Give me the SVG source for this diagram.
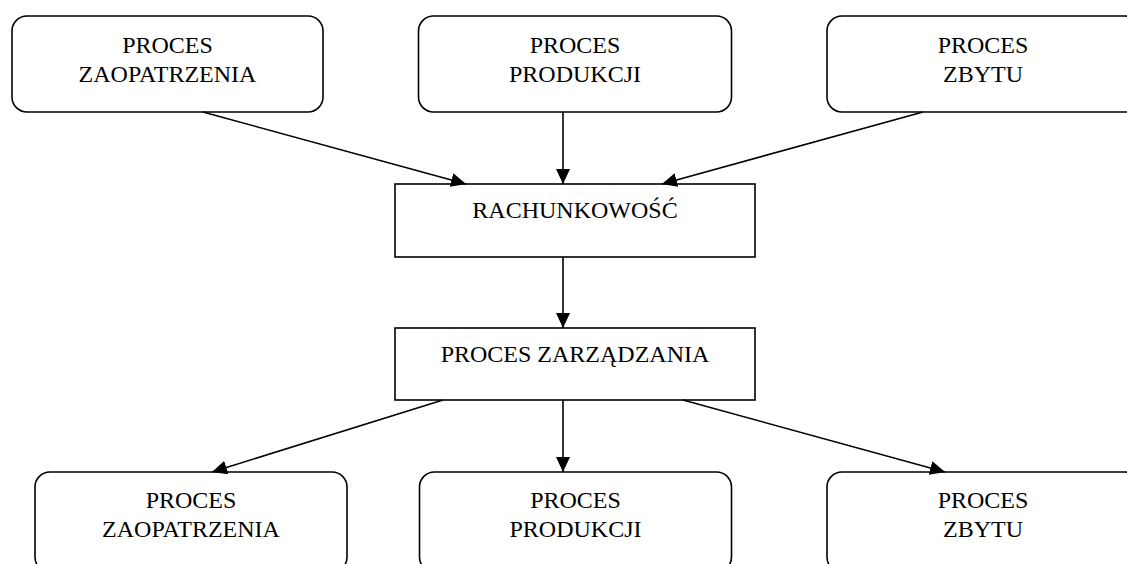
<svg xmlns="http://www.w3.org/2000/svg" width="1127" height="564" viewBox="0 0 1127 564">
<style>
.box{fill:#fff;stroke:#000;stroke-width:1.6}
.t{font-family:"Liberation Serif","Times New Roman",serif;font-size:24px;fill:#000;text-anchor:middle}
.c{stroke:#000;stroke-width:1.6;fill:none;marker-end:url(#ah)}
</style>
<defs>
<marker id="ah" markerUnits="userSpaceOnUse" markerWidth="16" markerHeight="14" refX="15" refY="7" orient="auto">
<path d="M0,0 L15,7 L0,14 z" fill="#000"/>
</marker>
</defs>
<rect width="1127" height="564" fill="#fff"/>
<g id="top-zaopatrzenie">
<rect class="box" x="12" y="16" width="311" height="96" rx="15"/>
<text class="t" x="167.5" y="53">PROCES</text>
<text class="t" x="167.5" y="82">ZAOPATRZENIA</text>
</g>
<g id="top-produkcja">
<rect class="box" x="418.5" y="16" width="313" height="96" rx="15"/>
<text class="t" x="575" y="53">PROCES</text>
<text class="t" x="575" y="82">PRODUKCJI</text>
</g>
<g id="top-zbyt">
<rect class="box" x="827" y="16" width="313" height="96" rx="15"/>
<text class="t" x="983" y="53">PROCES</text>
<text class="t" x="983" y="82">ZBYTU</text>
</g>
<g id="rachunkowosc">
<rect class="box" x="395" y="184" width="360" height="73"/>
<text class="t" x="575" y="218">RACHUNKOWOŚĆ</text>
</g>
<g id="zarzadzanie">
<rect class="box" x="395" y="328" width="360" height="72"/>
<text class="t" x="575" y="362">PROCES ZARZĄDZANIA</text>
</g>
<g id="bottom-zaopatrzenie">
<rect class="box" x="35" y="472" width="312" height="100" rx="15"/>
<text class="t" x="191" y="508">PROCES</text>
<text class="t" x="191" y="537">ZAOPATRZENIA</text>
</g>
<g id="bottom-produkcja">
<rect class="box" x="419.5" y="472" width="312" height="100" rx="15"/>
<text class="t" x="575.5" y="508">PROCES</text>
<text class="t" x="575.5" y="537">PRODUKCJI</text>
</g>
<g id="bottom-zbyt">
<rect class="box" x="827" y="472" width="313" height="100" rx="15"/>
<text class="t" x="983" y="508">PROCES</text>
<text class="t" x="983" y="537">ZBYTU</text>
</g>
<g id="connectors">
<line class="c" x1="203" y1="112" x2="466" y2="184"/>
<line class="c" x1="563" y1="112" x2="563" y2="184"/>
<line class="c" x1="923" y1="112" x2="662" y2="184"/>
<line class="c" x1="563" y1="257" x2="563" y2="328"/>
<line class="c" x1="443" y1="400" x2="212" y2="472"/>
<line class="c" x1="563" y1="400" x2="563" y2="472"/>
<line class="c" x1="683" y1="400" x2="945" y2="472"/>
</g>
</svg>
